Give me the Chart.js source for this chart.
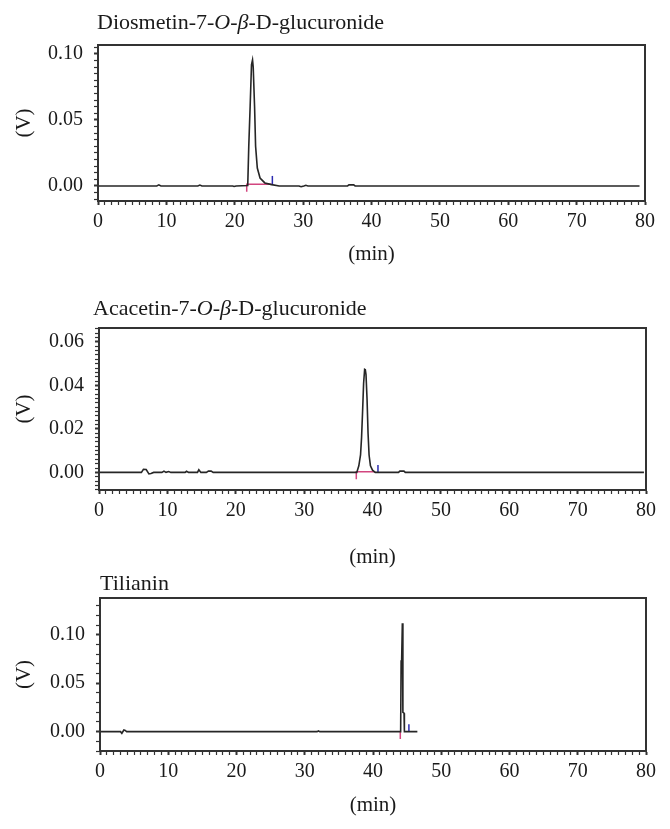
<!DOCTYPE html>
<html>
<head>
<meta charset="utf-8">
<script src="https://cdn.jsdelivr.net/npm/chart.js"></script>
<style>
body{margin:0;background:#fff;width:670px;height:829px;position:relative;overflow:hidden}
.panel{position:absolute;left:0;width:670px}
.titulo{position:absolute;font-family:"Liberation Serif",serif;font-size:22px;line-height:24px;color:#1a1a1a;white-space:nowrap}
</style>
</head>
<body>
<div class="panel" style="top:0;height:270px"><canvas id="c1"></canvas></div>
<div class="panel" style="top:280px;height:290px"><canvas id="c2"></canvas></div>
<div class="panel" style="top:570px;height:259px"><canvas id="c3"></canvas></div>
<div class="titulo" style="left:97px;top:10px">Diosmetin-7-<i>O</i>-<i>β</i>-D-glucuronide</div>
<div class="titulo" style="left:93px;top:296px">Acacetin-7-<i>O</i>-<i>β</i>-D-glucuronide</div>
<div class="titulo" style="left:100px;top:571px">Tilianin</div>
<script>
var tiempo1 = [0, 8.6, 8.9, 9.2, 14.6, 14.9, 15.2, 19.7, 19.9, 20.2, 21.9, 22.05, 22.25, 22.45, 22.6, 22.7, 22.9, 23.05, 23.3, 23.7, 24.4, 25.4, 26.5, 29.4, 29.7, 30.1, 30.4, 30.7, 36.5, 36.7, 37.4, 37.6, 79.2];
var senal1  = [0, 0, 0.0008, 0, 0, 0.0007, 0, 0, -0.0004, 0, 0.0003, 0.03, 0.06, 0.092, 0.0955, 0.09, 0.06, 0.03, 0.0136, 0.006, 0.0023, 0.001, 0, 0, -0.0006, 0, 0.0005, 0, 0, 0.0008, 0.0008, 0, 0];
var rosaT1 = [21.75, 21.75, 25.4];
var rosaV1 = [-0.0043, 0.0013, 0.0013];
var azulT1 = [25.5, 25.5];
var azulV1 = [0.0013, 0.0076];

var tiempo2 = [0, 6.2, 6.5, 6.9, 7.3, 7.6, 8.0, 9.2, 9.5, 9.8, 10.2, 10.5, 12.6, 12.8, 13.1, 14.4, 14.6, 14.9, 15.7, 16.0, 16.4, 16.7, 37.7, 38.0, 38.25, 38.4, 38.55, 38.7, 38.85, 38.95, 39.05, 39.2, 39.35, 39.5, 39.7, 40.0, 40.4, 43.8, 44.0, 44.6, 44.8, 79.7];
var senal2  = [0, 0, 0.0014, 0.0013, -0.0007, -0.0005, 0, 0, 0.0006, 0, 0.0004, 0, 0, 0.0005, 0, 0, 0.0012, 0, 0, 0.0006, 0.0006, 0, 0, 0.003, 0.008, 0.016, 0.028, 0.041, 0.0474, 0.0472, 0.045, 0.034, 0.018, 0.008, 0.003, 0.001, 0, 0, 0.0006, 0.0006, 0, 0];
var rosaT2 = [37.63, 37.63, 40.4];
var rosaV2 = [-0.0032, 0.0003, 0.0003];
var azulT2 = [40.8, 40.8];
var azulV2 = [0, 0.0034];

var tiempo3 = [0, 3.0, 3.2, 3.5, 3.7, 3.9, 31.8, 32.0, 32.2, 44.05, 44.12, 44.2, 44.3, 44.38, 44.55, 44.6, 46.5];
var senal3  = [0, 0, -0.0017, 0.0017, 0.0012, 0, 0, 0.0007, 0, 0, 0.073, 0.075, 0.112, 0.02, 0.019, 0, 0];
var rosaT3 = [44.0, 44.0];
var rosaV3 = [-0.0076, 0];
var azulT3 = [45.26, 45.26];
var azulV3 = [0, 0.0076];

var xMin = 0, xMax = 80, xPaso = 1, xMayor = 10;

var fuente = { family: "'Liberation Serif', serif", size: 20 };
var fuenteTitulo = { family: "'Liberation Serif', serif", size: 21 };
var colorEje = "#333";
var colorTexto = "#1a1a1a";

function puntos(t, v) {
  return t.map(function (x, i) { return { x: x, y: v[i] }; });
}

function esMultiplo(v, paso) {
  var r = v / paso;
  return Math.abs(r - Math.round(r)) < 1e-6;
}

var marco = {
  id: "marco",
  afterDraw: function (chart) {
    var a = chart.chartArea, ctx = chart.ctx;
    ctx.save();
    ctx.strokeStyle = colorEje;
    ctx.lineWidth = 2;
    ctx.strokeRect(a.left, a.top, a.right - a.left, a.bottom - a.top);
    ctx.restore();
  }
};

function grafico(id, t, v, rT, rV, aT, aV, o) {
  var ctx = document.getElementById(id).getContext("2d");
  return new Chart(ctx, {
    type: "line",
    data: {
      datasets: [
        { data: puntos(t, v), borderColor: "#262626", borderWidth: 1.6, pointRadius: 0, tension: 0 },
        { data: puntos(rT, rV), borderColor: "#d2457f", borderWidth: 1.5, pointRadius: 0, tension: 0 },
        { data: puntos(aT, aV), borderColor: "#2c2cb0", borderWidth: 1.5, pointRadius: 0, tension: 0 }
      ]
    },
    options: {
      responsive: true,
      maintainAspectRatio: false,
      animation: false,
      layout: { padding: { top: o.padTop, right: o.padRight, left: 0, bottom: 0 } },
      plugins: { legend: { display: false }, tooltip: { enabled: false } },
      scales: {
        x: {
          type: "linear",
          min: xMin,
          max: xMax,
          afterFit: function (s) { s.height = o.altoX; },
          border: { color: colorEje, width: 2 },
          grid: { drawOnChartArea: false, drawTicks: true, tickLength: 4, tickColor: colorEje,
                  tickWidth: function (c) { return esMultiplo(c.tick.value, xMayor) ? 2 : 1.2; } },
          ticks: {
            stepSize: xPaso, autoSkip: false, maxRotation: 0, includeBounds: false,
            padding: 5, color: colorTexto, font: fuente,
            callback: function (val) { return esMultiplo(val, xMayor) ? String(Math.round(val)) : ""; }
          },
          title: { display: true, text: "(min)", color: colorTexto, font: fuenteTitulo, padding: { top: 0, bottom: o.padMin } }
        },
        y: {
          min: o.yMin,
          max: o.yMax,
          afterFit: function (s) { s.width = o.anchoY; },
          border: { color: colorEje, width: 2 },
          grid: { drawOnChartArea: false, drawTicks: true, tickLength: 4, tickColor: colorEje,
                  tickWidth: function (c) { return esMultiplo(c.tick.value, o.yMayor) ? 2 : 1.2; } },
          ticks: {
            stepSize: o.yPaso, autoSkip: false, includeBounds: false,
            padding: 11, color: colorTexto, font: fuente,
            callback: function (val) { return esMultiplo(val, o.yMayor) ? Number(val).toFixed(2) : ""; }
          },
          title: { display: true, text: "(V)", color: colorTexto, font: fuenteTitulo, padding: { top: 12, bottom: 0 } }
        }
      }
    },
    plugins: [marco]
  });
}

grafico("c1", tiempo1, senal1, rosaT1, rosaV1, azulT1, azulV1,
  { yMin: -0.0114, yMax: 0.1068, yPaso: 0.005, yMayor: 0.05, padTop: 45, padRight: 25, anchoY: 98, altoX: 69, padMin: 3 });
grafico("c2", tiempo2, senal2, rosaT2, rosaV2, azulT2, azulV2,
  { yMin: -0.0081, yMax: 0.0664, yPaso: 0.002, yMayor: 0.02, padTop: 48, padRight: 24, anchoY: 99, altoX: 80, padMin: 0 });
grafico("c3", tiempo3, senal3, rosaT3, rosaV3, azulT3, azulV3,
  { yMin: -0.020, yMax: 0.138, yPaso: 0.01, yMayor: 0.05, padTop: 28, padRight: 24, anchoY: 100, altoX: 78, padMin: 11 });
</script>
</body>
</html>
